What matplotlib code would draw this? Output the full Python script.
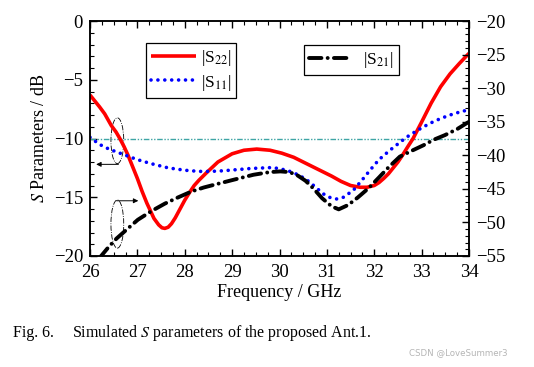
import matplotlib
matplotlib.use("Agg")
import matplotlib.pyplot as plt
from matplotlib.patches import Ellipse
from matplotlib.ticker import MultipleLocator

plt.rcParams['font.family'] = ['Liberation Serif', 'DejaVu Serif']
plt.rcParams['mathtext.fontset'] = 'stix'

# ---- data ----
f_s22 = [26.0, 26.1, 26.2, 26.31, 26.45, 26.55, 26.63, 26.72, 26.8, 26.9, 27.0, 27.1, 27.2, 27.35, 27.45,
         27.52, 27.58, 27.65, 27.72, 27.8, 27.9, 28.0, 28.1, 28.2, 28.3, 28.45, 28.7, 29.0, 29.25,
         29.52, 29.8, 30.05, 30.3, 30.6, 30.9, 31.1, 31.3, 31.5, 31.7, 31.85, 32.0, 32.1, 32.2,
         32.3, 32.4, 32.5, 32.6, 32.7, 32.82, 33.0, 33.2, 33.4, 33.6, 33.8, 34.0]
s22 = [-6.3, -6.8, -7.3, -7.9, -8.9, -9.45, -10.0, -10.7, -11.4, -12.4, -13.4, -14.5, -15.5, -16.8, -17.35,
       -17.6, -17.65, -17.55, -17.25, -16.75, -16.0, -15.25, -14.6, -14.0, -13.55, -12.95, -12.0, -11.3, -11.0,
       -10.9, -11.0, -11.25, -11.6, -12.2, -12.8, -13.2, -13.65, -14.0, -14.15, -14.15, -14.0, -13.75, -13.4,
       -13.0, -12.5, -12.0, -11.4, -10.75, -10.0, -8.6, -7.0, -5.6, -4.5, -3.6, -2.75]

f_s11 = [26.0, 26.2, 26.4, 26.6, 26.8, 27.0, 27.3, 27.65, 28.0, 28.3, 28.55, 28.8, 29.1, 29.4,
         29.8, 30.0, 30.22, 30.4, 30.57, 30.75, 30.92, 31.05, 31.2, 31.35, 31.56, 31.75, 31.91,
         32.1, 32.33, 32.55, 32.75, 33.0, 33.18, 33.4, 33.6, 33.8, 34.0]
s11 = [-9.9, -10.5, -10.9, -11.2, -11.5, -11.8, -12.15, -12.5, -12.7, -12.8, -12.8, -12.75, -12.65, -12.55,
       -12.48, -12.55, -12.8, -13.1, -13.5, -14.1, -14.7, -15.0, -15.15, -15.0, -14.4, -13.5, -12.7,
       -11.8, -11.0, -10.3, -9.7, -9.1, -8.7, -8.3, -8.0, -7.75, -7.55]

f_s21 = [26.2, 26.4, 26.56, 26.8, 27.01, 27.3, 27.58, 27.85, 28.14, 28.4, 28.67, 29.0, 29.45, 29.8,
         30.02, 30.2, 30.36, 30.55, 30.71, 30.9, 31.1, 31.25, 31.45, 31.65, 31.88, 32.1, 32.3,
         32.54, 32.8, 33.04, 33.25, 33.49, 33.75, 34.0]
s21 = [-55.3, -53.6, -52.4, -50.9, -49.6, -48.3, -47.2, -46.3, -45.4, -44.8, -44.3, -43.7, -42.9, -42.5,
       -42.4, -42.5, -42.9, -43.8, -44.9, -46.4, -47.6, -48.05, -47.4, -46.3, -44.9, -43.3, -41.8,
       -40.2, -39.3, -38.5, -37.7, -37.0, -36.1, -35.0]

threshold = -10
xticks = [26, 27, 28, 29, 30, 31, 32, 33, 34]
yticks_left = [0, -5, -10, -15, -20]
yticks_right = [-20, -25, -30, -35, -40, -45, -50, -55]

# ---- figure ----
fig = plt.figure(figsize=(5.34, 3.67), dpi=100)
ax = fig.add_axes([90/534, 1-256/367, (469-90)/534, (256-21)/367])
ax2 = ax.twinx()

ax.axhline(threshold, color='#3fa5a5', lw=1.0, dashes=(4, 1.2, 1, 1.2, 1, 1.2))
l22, = ax.plot(f_s22, s22, color='#ff0000', lw=2.6, solid_capstyle='butt', solid_joinstyle='round')
l11, = ax.plot(f_s11, s11, color='#0000ff', lw=2.6, dashes=(0.01, 1.9), dash_capstyle='round')
l21, = ax2.plot(f_s21, s21, color='black', lw=2.8, dashes=(3.2, 1.6, 0.01, 1.6), dash_capstyle='round')

ax.set_xlim(26, 34)
ax.set_ylim(-20, 0)
ax2.set_ylim(-55, -20)
ax.set_xticks(xticks)
ax.set_yticks(yticks_left)
ax2.set_yticks(yticks_right)
ax.xaxis.set_minor_locator(MultipleLocator(0.25))
ax.yaxis.set_minor_locator(MultipleLocator(1))
ax2.yaxis.set_minor_locator(MultipleLocator(1))

ax.tick_params(axis='x', which='both', direction='in', top=True, bottom=True, labelsize=13.5, pad=6)
ax.tick_params(axis='y', which='both', direction='in', left=True, right=False, labelsize=13.5, pad=5)
ax2.tick_params(axis='y', which='both', direction='in', right=True, labelsize=13.5, pad=5)
for a in (ax, ax2):
    a.tick_params(which='major', length=5, width=1)
    a.tick_params(which='minor', length=3, width=0.8)
    for s in a.spines.values():
        s.set_linewidth(1.1)

ax.set_xlabel('Frequency / GHz', fontsize=13, labelpad=2)
ax.set_ylabel('$S$ Parameters / dB', fontsize=13, labelpad=4)

leg1 = ax2.legend([l22, l11], ['|S$_{22}$|', '|S$_{11}$|'], loc='upper left',
                  bbox_to_anchor=((146-90)/379, (256-43)/235), fontsize=12.5,
                  frameon=True, fancybox=False, edgecolor='black', framealpha=1,
                  handlelength=2.6, handletextpad=0.25, borderpad=0.3, labelspacing=0.25,
                  borderaxespad=0)
leg1.get_frame().set_linewidth(0.9)
ax2.add_artist(leg1)
leg2 = ax2.legend([l21], ['|S$_{21}$|'], loc='upper left',
                  bbox_to_anchor=((304-90)/379, (256-45)/235), fontsize=12.5,
                  frameon=True, fancybox=False, edgecolor='black', framealpha=1,
                  handlelength=2.3, handletextpad=0.8, borderpad=0.3, borderaxespad=0)
leg2.get_frame().set_linewidth(0.9)

# annotations: ellipses with arrows
e1 = Ellipse((26.577, -10.19), 0.27, 3.9, fill=False, ec='black', lw=0.6, ls='-.')
e2 = Ellipse((26.577, -17.28), 0.27, 4.1, fill=False, ec='black', lw=0.6, ls='-.')
ax.add_patch(e1)
ax.add_patch(e2)
ax.annotate('', xy=(26.13, -12.2), xytext=(26.6, -12.2),
            arrowprops=dict(arrowstyle='-|>', lw=0.7, color='black', mutation_scale=7,
                            shrinkA=0, shrinkB=0))
ax.annotate('', xy=(27.02, -15.3), xytext=(26.56, -15.3),
            arrowprops=dict(arrowstyle='-|>', lw=0.7, color='black', mutation_scale=7,
                            shrinkA=0, shrinkB=0))

fig.text(13/534, 1-333/367, 'Fig. 6.', fontsize=11.5, va='center', ha='left')
fig.text(72/534, 1-333/367, 'Simulated $S$ parameters of the proposed Ant.1.', fontsize=11.5,
         va='center', ha='left')
fig.text(508/534, 1-353/367, 'CSDN @LoveSummer3', fontsize=6.2, color='#b5b5b5',
         family='DejaVu Sans', va='center', ha='right')

fig.savefig('out.png', dpi=100)
